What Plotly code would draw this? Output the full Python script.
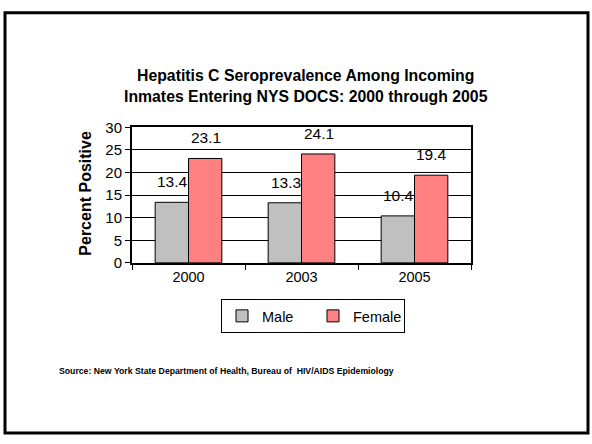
import plotly.graph_objects as go

years = ["2000", "2003", "2005"]
male = [13.4, 13.3, 10.4]
female = [23.1, 24.1, 19.4]
y_ticks = [0, 5, 10, 15, 20, 25, 30]

W, H = 592, 444
FONT = "Liberation Sans"

def px(x):
    return x / W

def py(y):
    return 1 - y / H

fig = go.Figure()
fig.add_trace(go.Bar(x=years, y=male, name="Male",
                     marker=dict(color="#C0C0C0", line=dict(color="black", width=1))))
fig.add_trace(go.Bar(x=years, y=female, name="Female",
                     marker=dict(color="#FF8080", line=dict(color="black", width=1))))

annotations = []
# category axis: annotation x given as category index
for i, v in enumerate(male):
    annotations.append(dict(x=i, y=v, xref="x", yref="y", text=f"{v}", showarrow=False,
                            xshift=-16, yshift=10, yanchor="bottom",
                            font=dict(family=FONT, size=15.5, color="black")))
for i, v in enumerate(female):
    annotations.append(dict(x=i, y=v, xref="x", yref="y", text=f"{v}", showarrow=False,
                            xshift=17, yshift=10, yanchor="bottom",
                            font=dict(family=FONT, size=15.5, color="black")))

annotations.append(dict(x=px(306), y=py(80), xref="paper", yref="paper",
                        text="<b>Hepatitis C Seroprevalence Among Incoming<br>Inmates Entering NYS DOCS: 2000 through 2005</b>",
                        showarrow=False, xanchor="center", yanchor="middle",
                        font=dict(family=FONT, size=15.8, color="black")))
annotations.append(dict(x=px(86), y=py(191), xref="paper", yref="paper",
                        text="<b>Percent Positive</b>", textangle=-90, showarrow=False,
                        xanchor="center", yanchor="middle",
                        font=dict(family=FONT, size=16, color="black")))
annotations.append(dict(x=px(57), y=py(376), xref="paper", yref="paper",
                        text="<b>Source: New York State Department of Health, Bureau of  HIV/AIDS Epidemiology</b>",
                        showarrow=False, xanchor="left", yanchor="middle",
                        font=dict(family=FONT, size=8.7, color="black")))

fig.update_layout(
    width=W, height=H,
    margin=dict(l=0, r=0, t=0, b=0),
    paper_bgcolor="white", plot_bgcolor="white",
    barmode="group", bargap=0.41, bargroupgap=0,
    font=dict(family=FONT, size=14, color="black"),
    showlegend=True,
    legend=dict(orientation="h", x=px(313), xanchor="center", y=py(301.5), yanchor="top",
                bordercolor="black", borderwidth=1, bgcolor="white",
                font=dict(family=FONT, size=14.5, color="black"),
                itemwidth=30, entrywidth=46, tracegroupgap=0),
    xaxis=dict(domain=[px(132), px(471)], type="category",
               showline=True, linecolor="black", linewidth=2, mirror=True,
               ticks="outside", tickson="boundaries", ticklen=5, tickcolor="black",
               tickfont=dict(family=FONT, size=14.5, color="black"), showgrid=False),
    yaxis=dict(domain=[py(264), py(123)], range=[0, 30], tickvals=y_ticks,
               showline=True, linecolor="black", linewidth=2, mirror=True,
               ticks="outside", ticklen=5, tickcolor="black",
               showgrid=True, gridcolor="black", gridwidth=1, zeroline=False,
               tickfont=dict(family=FONT, size=15, color="black")),
    annotations=annotations,
    shapes=[dict(type="rect", xref="paper", yref="paper",
                 x0=px(5), x1=px(588), y0=py(441), y1=py(4),
                 line=dict(color="black", width=3), fillcolor="rgba(0,0,0,0)")],
)

fig.write_html("out.html")
